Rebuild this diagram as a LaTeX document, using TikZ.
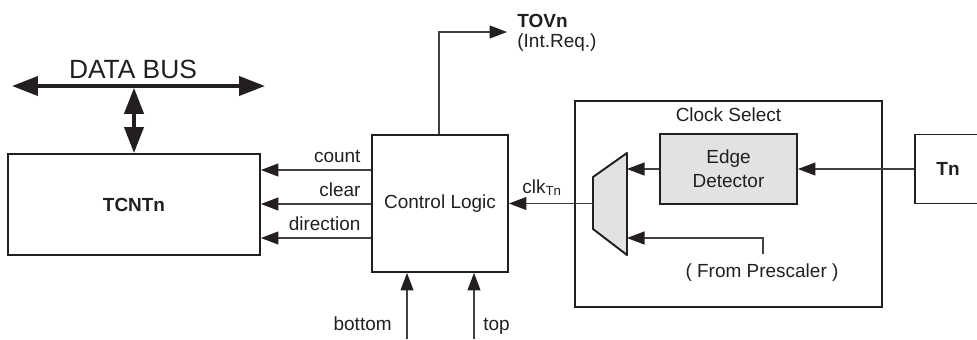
\documentclass[tikz,border=0pt]{standalone}
\usepackage{fontspec}
\setmainfont{Liberation Sans}
\usetikzlibrary{arrows.meta, positioning, calc}
\definecolor{ink}{HTML}{231F20}
\definecolor{wire}{HTML}{404040}
\definecolor{shade}{HTML}{E2E2E2}

\begin{document}
\begin{tikzpicture}[x=0.02cm, y=-0.02cm, text=ink,
  font=\fontsize{10.8}{13}\selectfont,
  blk/.style={draw=ink, line width=1.1pt, inner sep=0pt},
  sig/.style={draw=wire, line width=0.6pt, -{Triangle[length=3.5mm, width=2.6mm, color=ink]}},
  bus/.style={draw=ink, line width=2.2pt,
    {Triangle[length=5.2mm, width=3.8mm]}-{Triangle[length=5.2mm, width=3.8mm]}}]

% Frame
\useasboundingbox (0,0) rectangle (977,339);
\clip (0,0) rectangle (977,339);

% Data bus
\coordinate (busl) at (12,86);
\coordinate (busr) at (265,86);
\draw[bus] (busl) -- (busr);
\node[font=\fontsize{15}{18}\selectfont] (buslbl) at (133,69) {DATA BUS};

% Counter register
\node[blk, minimum width=5.04cm, minimum height=2.02cm,
  font=\fontsize{10.8}{13}\selectfont\bfseries] (tcnt) at (134,204.5) {TCNTn};
\draw[bus, shorten <=1pt] (tcnt.north |- busl) -- (tcnt.north);

% Control logic
\node[blk, minimum width=2.72cm, minimum height=2.74cm] (ctrl) at (440,203.5) {Control Logic};
\foreach \y/\lab in {170/count, 204/clear, 238/direction}
  \draw[sig] (ctrl.west |- 0,\y) -- node[pos=0, above left, inner sep=3pt, xshift=-2.7pt, yshift=1pt] {\lab} (tcnt.east |- 0,\y);

% Overflow request
\coordinate (tovn) at (507,32);
\draw[sig] (ctrl.north -| 439,0) |- (tovn);
\node[anchor=west, align=left, inner sep=0pt, font=\fontsize{10.8}{11}\selectfont] (tovlbl) at (517,33) {\textbf{TOVn}\\(Int.Req.)};

% bottom / top inputs
\coordinate (botin) at (407,339);
\coordinate (topin) at (474,339);
\draw[sig] (botin) -- (ctrl.south -| botin);
\draw[sig] (topin) -- (ctrl.south -| topin);
\node[anchor=base east, inner sep=0pt] (botlbl) at (392,330) {bottom};
\node[anchor=base west, inner sep=0pt] (toplbl) at (483,330) {top};

% Clock select
\node[blk, minimum width=6.14cm, minimum height=4.12cm] (cs) at (728.5,204) {};
\node[below=4pt of cs.north, inner sep=0pt] (cslbl) {Clock Select};
\node[blk, fill=shade, minimum width=2.74cm, minimum height=1.4cm, align=center,
  font=\fontsize{10.8}{13.6}\selectfont] (edge) at (728.5,169) {Edge\\Detector};

% Multiplexer
\filldraw[fill=shade, draw=ink, line width=1.1pt, line join=round]
  (593,177) -- (627,153) -- (627,255) -- (593,229) -- cycle;
\coordinate (muxo) at (593,203.5);
\coordinate (muxa) at (627,169);
\coordinate (muxb) at (627,238);

\draw[sig] (edge.west) -- (muxa);
\draw[sig] (muxo) -- (ctrl.east);
\node[anchor=base west, inner sep=0pt] (clklbl) at (522,193) {clk\textsubscript{Tn}};

% External pin
\node[blk, minimum width=1.32cm, minimum height=1.38cm,
  font=\fontsize{10.8}{13}\selectfont\bfseries] (tn) at (948,169) {Tn};
\draw[sig] (tn.west) -- (edge.east);

% Prescaler input
\coordinate (pres) at (763,254);
\draw[sig] (pres) |- (muxb);
\node[inner sep=0pt] (preslbl) at (762,273) {( From Prescaler )};

\end{tikzpicture}
\end{document}
